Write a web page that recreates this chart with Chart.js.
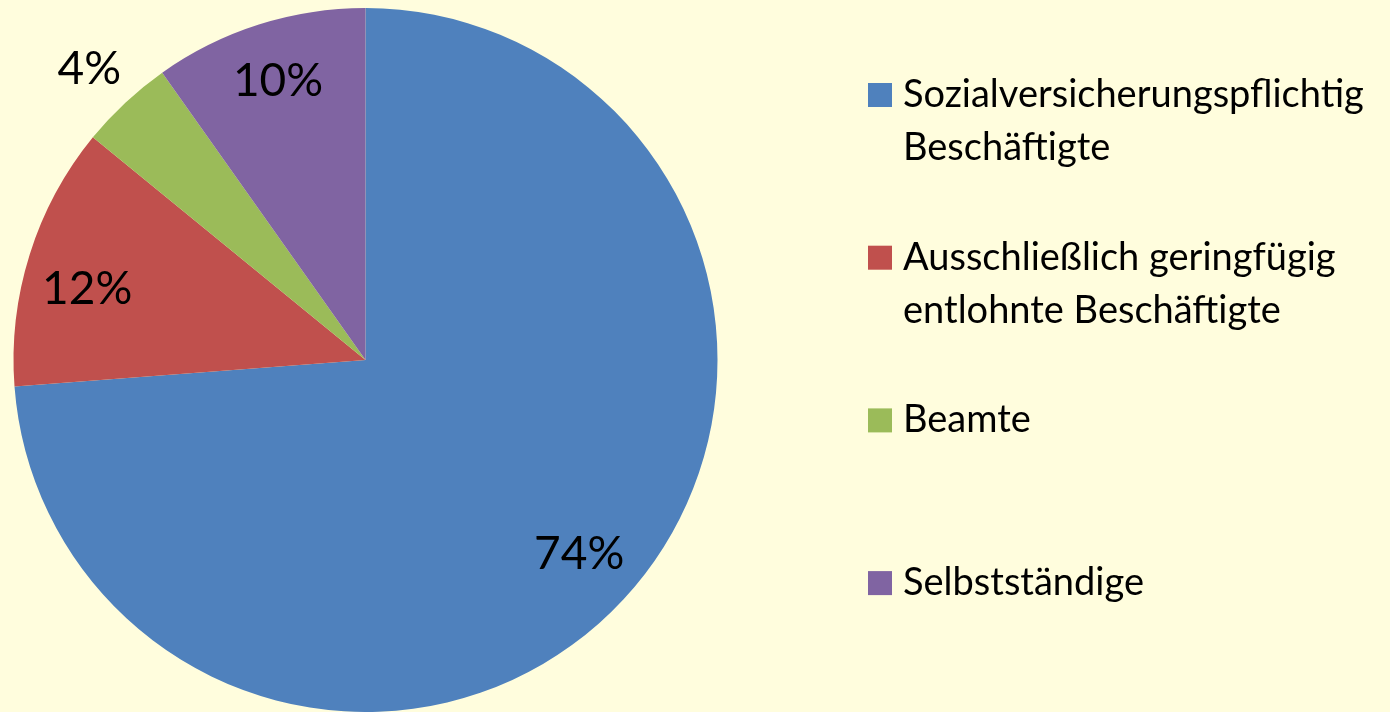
<!DOCTYPE html>
<html>
<head>
<meta charset="utf-8">
<script src="https://cdn.jsdelivr.net/npm/chart.js@4/dist/chart.umd.min.js"></script>
<style>
  html, body { margin: 0; padding: 0; background: #FFFDDD; }
  #wrap { width: 1390px; height: 712px; }
</style>
</head>
<body>
<div id="wrap"><canvas id="chart" width="1390" height="712"></canvas></div>
<script>
// categories (legend text, split into lines)
const categories = [
    ['Sozialversicherungspflichtig', 'Beschäftigte'],
    ['Ausschließlich geringfügig', 'entlohnte Beschäftigte'],
    ['Beamte'],
    ['Selbstständige']
];
// share in percent
const shares = [73.8, 12.1, 4.3, 9.8];
const sliceColors = ['#4F81BD', '#C0504D', '#9BBB59', '#8064A2'];

const FONT = 'Lato, "Open Sans", sans-serif';

// percentage labels on the slices
const sliceLabels = {
    id: 'sliceLabels',
    afterDatasetsDraw(chart) {
        const ctx = chart.ctx;
        const meta = chart.getDatasetMeta(0);
        // small hand nudges, like the office chart did
        const nudge = [[2, -3], [-3, 15], [0, 4], [0, -5]];
        ctx.save();
        ctx.font = '46px ' + FONT;
        ctx.fillStyle = '#000';
        ctx.textAlign = 'center';
        ctx.textBaseline = 'alphabetic';
        meta.data.forEach(function(arc, i) {
            const p = arc.getProps(['x', 'y', 'startAngle', 'endAngle', 'outerRadius']);
            const mid = (p.startAngle + p.endAngle) / 2;
            // small slices get their label outside the pie
            const f = shares[i] < 5 ? 1.15 : 0.82;
            const x = p.x + Math.cos(mid) * p.outerRadius * f + nudge[i][0];
            const y = p.y + Math.sin(mid) * p.outerRadius * f + nudge[i][1];
            ctx.fillText(Math.round(shares[i]) + '%', x, y + 16);
        });
        ctx.restore();
    }
};

// legend on the right, one item per category
const sideLegend = {
    id: 'sideLegend',
    afterDraw(chart) {
        const ctx = chart.ctx;
        const left = 868, box = 24, step = 162.7, lineH = 53;
        ctx.save();
        ctx.font = '38px ' + FONT;
        ctx.textBaseline = 'alphabetic';
        ctx.textAlign = 'left';
        categories.forEach(function(lines, i) {
            const base = 107 + i * step;
            ctx.fillStyle = sliceColors[i];
            ctx.fillRect(left, base - box, box, box);
            ctx.fillStyle = '#000';
            lines.forEach(function(t, j) {
                ctx.fillText(t, left + 35, base + j * lineH);
            });
        });
        ctx.restore();
    }
};

new Chart(document.getElementById('chart'), {
    type: 'pie',
    data: {
        labels: categories.map(function(l) { return l.join(' '); }),
        datasets: [{
            data: shares,
            backgroundColor: sliceColors,
            borderWidth: 0,
            clip: false
        }]
    },
    options: {
        responsive: false,
        animation: false,
        layout: { padding: { left: 13, right: 672, top: 8, bottom: -1 } },
        plugins: {
            legend: { display: false },
            tooltip: { enabled: false }
        }
    },
    plugins: [sliceLabels, sideLegend]
});
</script>
</body>
</html>
